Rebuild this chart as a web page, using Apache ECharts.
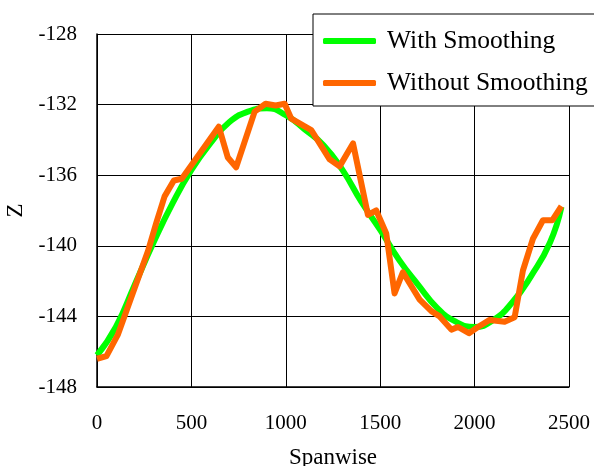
<!DOCTYPE html>
<html>
<head>
<meta charset="utf-8">
<title>Z vs Spanwise</title>
<script src="https://cdn.jsdelivr.net/npm/echarts@6/dist/echarts.min.js"></script>
<style>
    html, body { margin: 0; padding: 0; background: #fff; }
    #chart { width: 594px; height: 466px; }
</style>
</head>
<body>
<div id="chart"></div>
<script>
// spanwise positions / Z values
var smoothX = [0, 100, 200, 300, 400, 500, 600, 700, 800, 900, 1000, 1100, 1200, 1300, 1400, 1500, 1600, 1700, 1800, 1900, 2000, 2100, 2200, 2300, 2400, 2460]
var smoothZ = [-146.2, -144.6, -142.2, -139.8, -137.6, -135.7, -134.2, -133.0, -132.4, -132.2, -132.6, -133.4, -134.3, -135.7, -137.5, -139.1, -140.8, -142.2, -143.5, -144.3, -144.6, -144.2, -143.2, -141.7, -139.8, -137.8]

var rawX = [0, 50, 110, 270, 314, 358, 407, 449, 645, 693, 737, 835, 893, 946, 994, 1029, 1135, 1232, 1285, 1356, 1435, 1479, 1532, 1576, 1620, 1709, 1771, 1815, 1877, 1912, 1970, 2018, 2080, 2159, 2212, 2256, 2309, 2362, 2412, 2460]
var rawZ = [-146.4, -146.25, -145.05, -140.3, -138.7, -137.2, -136.3, -136.2, -133.25, -135.0, -135.55, -132.4, -131.95, -132.05, -131.95, -132.8, -133.45, -135.1, -135.5, -134.2, -138.25, -138.0, -139.3, -142.7, -141.5, -143.05, -143.7, -144.0, -144.75, -144.6, -144.95, -144.6, -144.2, -144.3, -144.05, -141.4, -139.6, -138.55, -138.55, -137.75]

var seriesNames = ['With Smoothing', 'Without Smoothing']

function pairs(xs, ys) {
    return xs.map(function (x, i) { return [x, ys[i]] })
}

var font = 'Liberation Serif, Times New Roman, serif'
var chart = echarts.init(document.getElementById('chart'))
var option = {
    animation: false,
    textStyle: { fontFamily: font, color: '#000' },
    grid: { left: 97, right: 25, top: 34, bottom: 79, outerBoundsMode: 'none' },
    legend: {
        data: seriesNames,
        orient: 'vertical',
        left: 313,
        top: 14,
        padding: [14, 40, 10, 10],
        itemGap: 16,
        itemWidth: 53,
        itemHeight: 6,
        icon: 'roundRect',
        backgroundColor: '#fff',
        borderColor: '#000',
        borderWidth: 1,
        borderRadius: 0,
        textStyle: { fontFamily: font, fontSize: 25.5, color: '#000', padding: [0, 0, 0, 6] }
    },
    xAxis: {
        type: 'value',
        min: 0,
        max: 2500,
        interval: 500,
        name: 'Spanwise',
        nameLocation: 'middle',
        nameGap: 59,
        nameTextStyle: { fontFamily: font, fontSize: 23, color: '#000' },
        axisLine: { lineStyle: { color: '#000', width: 1.5 } },
        axisTick: { show: false },
        axisLabel: {
            fontFamily: font, fontSize: 21, color: '#000', margin: 26,
            formatter: function (v) { return String(v) }
        },
        splitLine: { lineStyle: { color: '#000', width: 1 } }
    },
    yAxis: {
        type: 'value',
        min: -148,
        max: -128,
        interval: 4,
        name: 'Z',
        nameLocation: 'middle',
        nameRotate: 90,
        nameGap: 66,
        nameTextStyle: { fontFamily: font, fontSize: 23, color: '#000' },
        axisLine: { show: true, lineStyle: { color: '#000', width: 1.5 } },
        axisTick: { show: false },
        axisLabel: {
            fontFamily: font, fontSize: 21, color: '#000', margin: 20,
            formatter: function (v) { return String(v) }
        },
        splitLine: { lineStyle: { color: '#000', width: 1 } }
    },
    series: [{
        name: seriesNames[0],
        type: 'line',
        data: pairs(smoothX, smoothZ),
        smooth: true,
        symbol: 'none',
        color: '#00ff00',
        lineStyle: { width: 6, color: '#00ff00' }
    }, {
        name: seriesNames[1],
        type: 'line',
        data: pairs(rawX, rawZ),
        symbol: 'none',
        color: '#ff6600',
        lineStyle: { width: 6, color: '#ff6600', join: 'round' }
    }]
}
chart.setOption(option)
</script>
</body>
</html>
